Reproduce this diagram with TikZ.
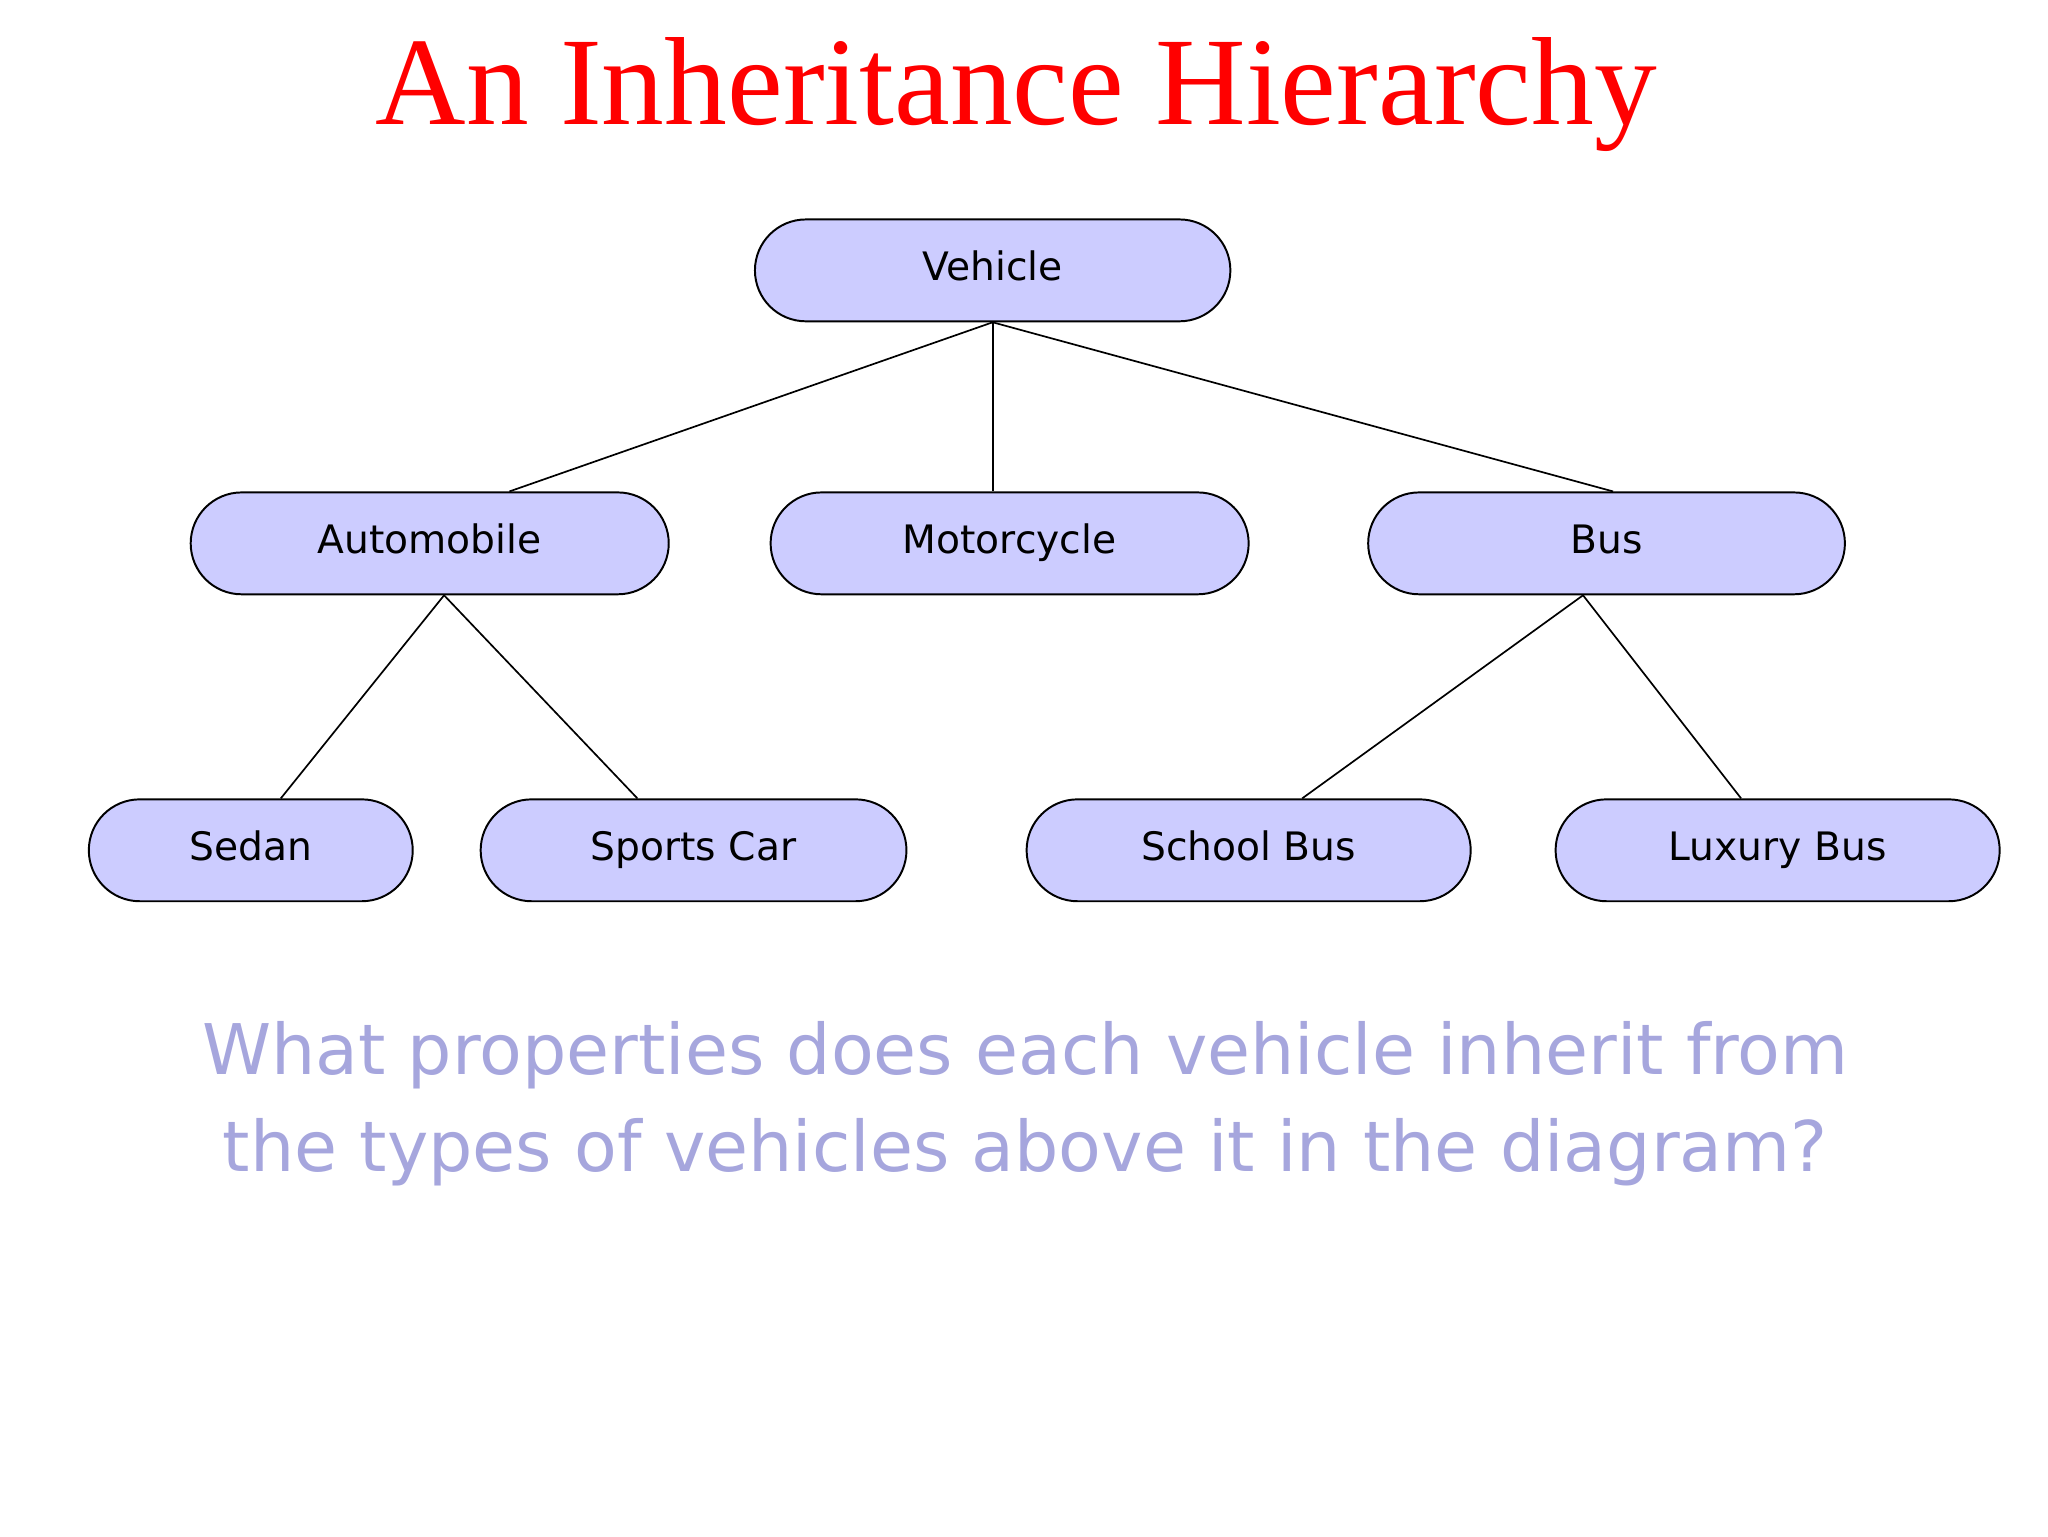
\documentclass[tikz,border=0pt]{standalone}
\usepackage{fontspec}
\setmainfont{DejaVu Sans}
\newfontfamily\titlefont{Liberation Serif}
\usetikzlibrary{calc}
\definecolor{boxfill}{HTML}{CCCCFF}
\definecolor{qcol}{HTML}{A6A6DD}
\tikzset{
  cls/.style={draw=black, line width=1.5pt, fill=boxfill, rounded corners=39pt,
    minimum height=78pt, inner sep=0pt, text height=21pt, text depth=6pt,
    font=\fontsize{30}{34}\selectfont},
  link/.style={draw=black, line width=1.3pt}
}
\begin{document}
\begin{tikzpicture}[x=1pt,y=-1pt]
\path[use as bounding box] (0,0) rectangle (1568,1176);
\node[text=red, font=\titlefont\fontsize{96}{110}\selectfont] (title) at (778,72) {An Inheritance Hierarchy};
\node[cls, minimum width=364pt] (veh) at (760,207) {Vehicle};
\node[cls, minimum width=366pt] (auto) at (329,416) {Automobile};
\node[cls, minimum width=366pt] (moto) at (773,416) {Motorcycle};
\node[cls, minimum width=365pt] (bus) at (1230,416) {Bus};
\node[cls, minimum width=248pt] (sedan) at (192,651) {Sedan};
\node[cls, minimum width=326pt] (sports) at (531,651) {Sports Car};
\node[cls, minimum width=340pt] (school) at (956,651) {School Bus};
\node[cls, minimum width=340pt] (lux) at (1361,651) {Luxury Bus};
\draw[link] (veh.south) -- ([xshift=61pt]auto.north);
\draw[link] (veh.south) -- ([xshift=-13pt]moto.north);
\draw[link] (veh.south) -- ([xshift=5pt]bus.north);
\draw[link] ([xshift=11pt]auto.south) -- ([xshift=23pt]sedan.north);
\draw[link] ([xshift=11pt]auto.south) -- ([xshift=-43pt]sports.north);
\draw[link] ([xshift=-18pt]bus.south) -- ([xshift=41pt]school.north);
\draw[link] ([xshift=-18pt]bus.south) -- ([xshift=-28pt]lux.north);
\node[text=qcol, font=\fontsize{53.5}{74}\selectfont, align=center] (q) at (785,845)
  {What properties does each vehicle inherit from\\the types of vehicles above it in the diagram?};
\end{tikzpicture}
\end{document}
